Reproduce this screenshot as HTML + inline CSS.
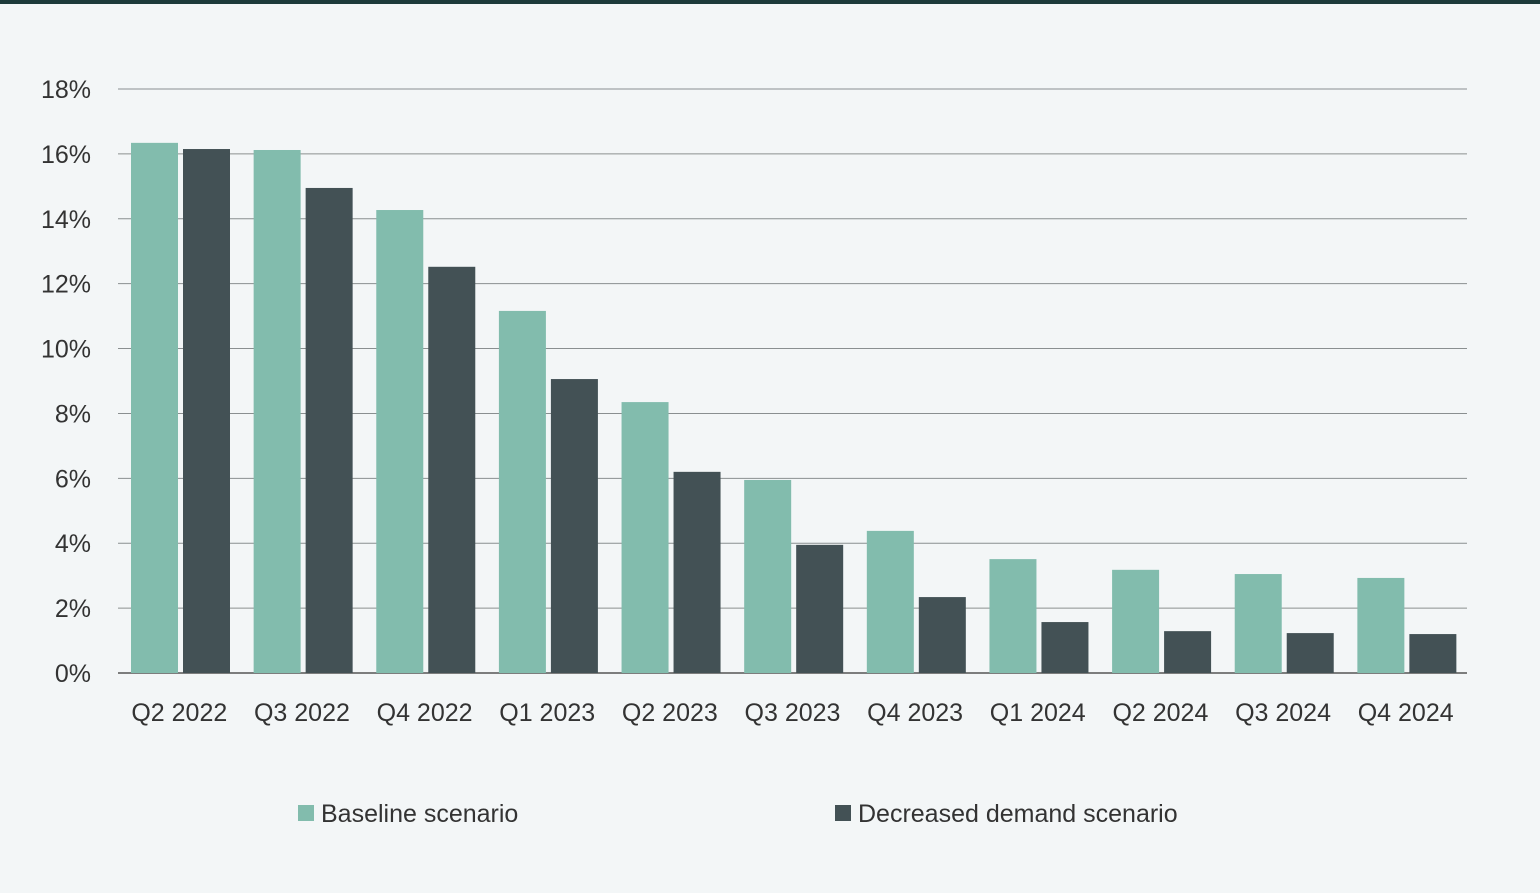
<!DOCTYPE html>
<html><head><meta charset="utf-8"><style>
html,body{margin:0;padding:0;background:#f3f6f7;}
body{width:1540px;height:888px;overflow:hidden;font-family:"Liberation Sans",sans-serif;}
</style></head><body>
<svg id="chart" width="1540" height="888" xmlns="http://www.w3.org/2000/svg">
<rect x="0" y="0" width="1540" height="4" fill="#1d3a3a"/>
<g id="grid"></g><g id="bars"></g><g id="labels"></g>
<g>
<rect x="298" y="805" width="16" height="16" fill="#82bcad"/>
<text x="321" y="822" font-size="25" fill="#333">Baseline scenario</text>
<rect x="835" y="805" width="16" height="16" fill="#435155"/>
<text x="858" y="822" font-size="25" fill="#333">Decreased demand scenario</text>
</g>
</svg>
<script>
const categories=["Q2 2022","Q3 2022","Q4 2022","Q1 2023","Q2 2023","Q3 2023","Q4 2023","Q1 2024","Q2 2024","Q3 2024","Q4 2024"];
const baseline=[16.34,16.12,14.27,11.16,8.35,5.95,4.38,3.51,3.18,3.05,2.93];
const decreased=[16.15,14.95,12.52,9.06,6.2,3.95,2.34,1.57,1.29,1.23,1.2];
const yTicks=[0,2,4,6,8,10,12,14,16,18];
const NS="http://www.w3.org/2000/svg";
const x0=118,x1=1467,y0=673,y18=89;
const y=v=>y0-(v/18)*(y0-y18);
const gw=(x1-x0)/categories.length;
const grid=document.getElementById('grid'),bars=document.getElementById('bars'),labels=document.getElementById('labels');
function mk(tag,attrs,parent){const e=document.createElementNS(NS,tag);for(const k in attrs)e.setAttribute(k,attrs[k]);parent.appendChild(e);return e;}
yTicks.forEach(t=>{
 const l=mk('line',{x1:x0,x2:x1,y1:y(t),y2:y(t),stroke:t===0?'#555':'#8a8f90','stroke-width':t===0?1.5:1},grid);
 
 
 const tx=mk('text',{x:91,y:y(t)+9,'text-anchor':'end','font-size':25,fill:'#333'},labels);
 tx.textContent=t+'%';
 
 
});
categories.forEach((c,i)=>{
 const gx=x0+i*gw;
 const b=mk('rect',{x:gx+13,y:y(baseline[i]),width:47,height:y0-y(baseline[i]),fill:'#82bcad'},bars);
 
 
 const d=mk('rect',{x:gx+65,y:y(decreased[i]),width:47,height:y0-y(decreased[i]),fill:'#435155'},bars);
 
 
 const t=mk('text',{x:gx+gw/2,y:721,'text-anchor':'middle','font-size':25,fill:'#333'},labels);
 t.textContent=c;
 
 
});
</script>
</body></html>
